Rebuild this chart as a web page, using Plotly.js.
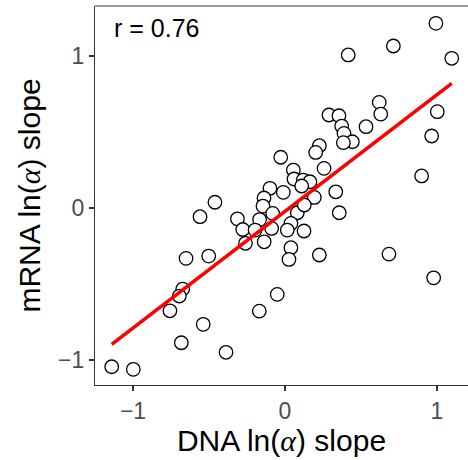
<!DOCTYPE html>
<html>
<head>
<meta charset="utf-8">
<script src="https://cdn.plot.ly/plotly-3.0.1.min.js"></script>
<style>html,body{margin:0;padding:0;background:#fff;}#chart{width:468px;height:460px;}</style>
</head>
<body>
<div id="chart"></div>
<script>
// DNA ln(alpha) slope (x) vs mRNA ln(alpha) slope (y)
const dnaSlope = [
  0.993, 0.416, 0.713, 1.097, 0.620, 0.630, 1.002, 0.289, 0.355, 0.373,
  0.533, 0.388, 0.443, 0.384, 0.965, 0.226, 0.202, -0.028, 0.257, 0.055,
  0.899, 0.059, 0.120, 0.164, 0.110, -0.011, 0.334, 0.193, -0.099, -0.138,
  -0.145, -0.461, -0.559, -0.313, -0.278, -0.260, -0.167, -0.081, -0.088, -0.137,
  -0.197, -0.651, -0.502, -0.673, -0.695, -0.757, -0.538, -0.169, -0.051, -0.682,
  -0.388, -1.140, -0.998, 0.081, 0.127, 0.357, 0.039, 0.015, 0.125, 0.039,
  0.026, 0.226, 0.684, 0.978
];
const mrnaSlope = [
  1.215, 1.007, 1.066, 0.985, 0.695, 0.618, 0.634, 0.612, 0.607, 0.539,
  0.535, 0.491, 0.436, 0.430, 0.474, 0.410, 0.366, 0.334, 0.261, 0.250,
  0.211, 0.191, 0.184, 0.173, 0.145, 0.103, 0.107, 0.070, 0.130, 0.066,
  0.013, 0.038, -0.057, -0.071, -0.141, -0.232, -0.076, -0.035, -0.134, -0.222,
  -0.145, -0.331, -0.316, -0.533, -0.579, -0.676, -0.765, -0.678, -0.568, -0.886,
  -0.949, -1.044, -1.061, -0.031, 0.020, -0.031, -0.101, -0.145, -0.151, -0.261,
  -0.338, -0.309, -0.303, -0.459
];
// fitted regression line end points
const fitX = [-1.140, 1.097];
const fitY = [-0.897, 0.820];
const corrLabel = 'r = 0.76';
const tickVals = [-1, 0, 1];
const tickText = ['\u22121', '0', '1'];

const traces = [
  {
    x: dnaSlope, y: mrnaSlope, type: 'scatter', mode: 'markers',
    marker: {symbol: 'circle', size: 13.5, color: '#ffffff', line: {color: '#000000', width: 1.3}},
    hoverinfo: 'skip', showlegend: false
  },
  {
    x: fitX, y: fitY, type: 'scatter', mode: 'lines',
    line: {color: '#ff0000', width: 3.6}, hoverinfo: 'skip', showlegend: false
  }
];

const axisFont = {family: 'Liberation Sans, Arial, sans-serif', size: 23, color: '#4d4d4d'};
const titleFont = {family: 'Liberation Sans, Arial, sans-serif', size: 30, color: '#000000'};
const alpha = '<span style="font-family:Liberation Serif, serif"><i>\u03b1</i></span>';

const layout = {
  width: 468, height: 460,
  margin: {l: 95, r: 0, t: 6, b: 75, pad: 0},
  paper_bgcolor: '#ffffff', plot_bgcolor: '#ffffff',
  showlegend: false,
  xaxis: {
    range: [-1.25, 1.204], showgrid: false, zeroline: false,
    showline: true, linecolor: '#333333', linewidth: 1.2,
    ticks: 'outside', ticklen: 5, tickwidth: 1.2, tickcolor: '#333333',
    tickvals: tickVals, ticktext: tickText, tickfont: axisFont,
    title: {text: 'DNA ln(' + alpha + ') slope', font: titleFont, standoff: 5}
  },
  yaxis: {
    range: [-1.164, 1.329], showgrid: false, zeroline: false,
    showline: true, linecolor: '#333333', linewidth: 1.2,
    ticks: 'outside', ticklen: 5, tickwidth: 1.2, tickcolor: '#333333',
    tickvals: tickVals, ticktext: tickText, tickfont: axisFont,
    title: {text: 'mRNA ln(' + alpha + ') slope', font: titleFont, standoff: 8}
  },
  shapes: [{
    type: 'line', xref: 'paper', yref: 'paper', x0: 0, x1: 1, y0: 1, y1: 1,
    line: {color: '#333333', width: 1.2}
  }],
  annotations: [{
    text: corrLabel, xref: 'paper', yref: 'paper', x: 0.045, y: 0.985,
    xanchor: 'left', yanchor: 'top', showarrow: false,
    font: {family: 'Liberation Sans, Arial, sans-serif', size: 25, color: '#000000'}
  }]
};

Plotly.newPlot('chart', traces, layout, {staticPlot: true, displayModeBar: false});
</script>
</body>
</html>
